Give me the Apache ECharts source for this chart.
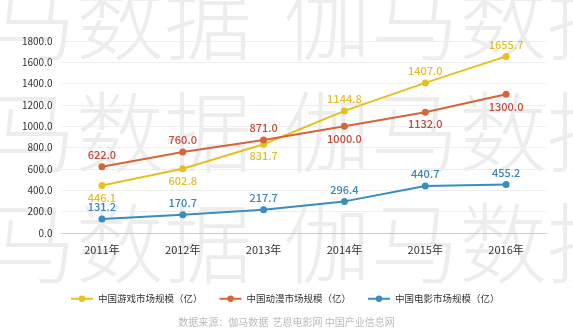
<!DOCTYPE html>
<html><head><meta charset="utf-8">
<script src="https://cdn.jsdelivr.net/npm/echarts@6/dist/echarts.min.js"></script>
<style>html,body{margin:0;padding:0;background:#fff}#c{width:573px;height:335px}</style>
</head><body><div id="c"></div>
<script>
const categories = ['2011年','2012年','2013年','2014年','2015年','2016年'];
const gameSeries = [446.1, 602.8, 831.7, 1144.8, 1407.0, 1655.7];
const animeSeries = [622.0, 760.0, 871.0, 1000.0, 1132.0, 1300.0];
const filmSeries = [131.2, 170.7, 217.7, 296.4, 440.7, 455.2];
const seriesNames = ['中国游戏市场规模（亿）','中国动漫市场规模（亿）','中国电影市场规模（亿）'];
const gameLabelPos = ['bottom','bottom','bottom','top','top','top'];
const animeLabelPos = ['top','top','top','bottom','bottom','bottom'];
const sourceText = '数据来源：伽马数据  艺恩电影网 中国产业信息网';

const font = '"Noto Sans CJK SC", "Noto Sans", sans-serif';
const chart = echarts.init(document.getElementById('c'));

function mk(name, data, lineColor, labelColor, posArr) {
  return {
    name, type: 'line', data: data.map((v, i) => ({
      value: v,
      label: { position: posArr ? posArr[i] : 'top' }
    })),
    symbol: 'circle', symbolSize: 7,
    lineStyle: { color: lineColor, width: 2 },
    itemStyle: { color: lineColor },
    label: { show: true, color: labelColor, fontSize: 11, fontFamily: font, fontWeight: 500,
      distance: 3, formatter: p => p.value.toFixed(1) },
    z: 3
  };
}

const wm = [];
const rows = [20, 132, 243];
rows.forEach(y => {
  wm.push({ type: 'text', x: -12, y: y, z: -10, silent: true,
    style: { text: '马数据', font: '300 88px "Noto Sans CJK SC"', fill: 'rgba(190,190,190,0.28)', textVerticalAlign: 'middle' } });
  wm.push({ type: 'text', x: 283, y: y, z: -10, silent: true,
    style: { text: '伽马数据', font: '300 88px "Noto Sans CJK SC"', fill: 'rgba(190,190,190,0.28)', textVerticalAlign: 'middle' } });
});
wm.push({ type: 'text', left: 'center', top: 317, silent: true,
  style: { text: sourceText, font: '10px "Noto Sans CJK SC"', fill: '#bbbbbb' } });

chart.setOption({
  animation: false,
  backgroundColor: '#fff',
  textStyle: { fontFamily: font },
  grid: { left: 61.5, right: 26.5, top: 41, bottom: 102 },
  legend: {
    left: 65, top: 289, itemWidth: 22, itemHeight: 8, itemGap: 16,
    textStyle: { fontSize: 9.5, color: '#333', fontFamily: font },
    data: seriesNames
  },
  xAxis: {
    type: 'category', data: categories, boundaryGap: true,
    axisLine: { lineStyle: { color: '#cccccc' } },
    axisTick: { show: false },
    axisLabel: { color: '#333', fontSize: 11, margin: 11, fontFamily: font }
  },
  yAxis: {
    type: 'value', min: 0, max: 1800, interval: 200,
    axisLine: { show: false }, axisTick: { show: false },
    splitLine: { lineStyle: { color: '#eeeeee' } },
    axisLabel: { color: '#333', fontSize: 10, margin: 9, fontFamily: font, formatter: v => v.toFixed(1) }
  },
  graphic: wm,
  series: [
    mk(seriesNames[0], gameSeries, '#E6C021', '#E2BE2A', gameLabelPos),
    mk(seriesNames[1], animeSeries, '#D8643A', '#C44A3C', animeLabelPos),
    mk(seriesNames[2], filmSeries, '#3A8DC0', '#3A86B8', null)
  ]
});
</script></body></html>
